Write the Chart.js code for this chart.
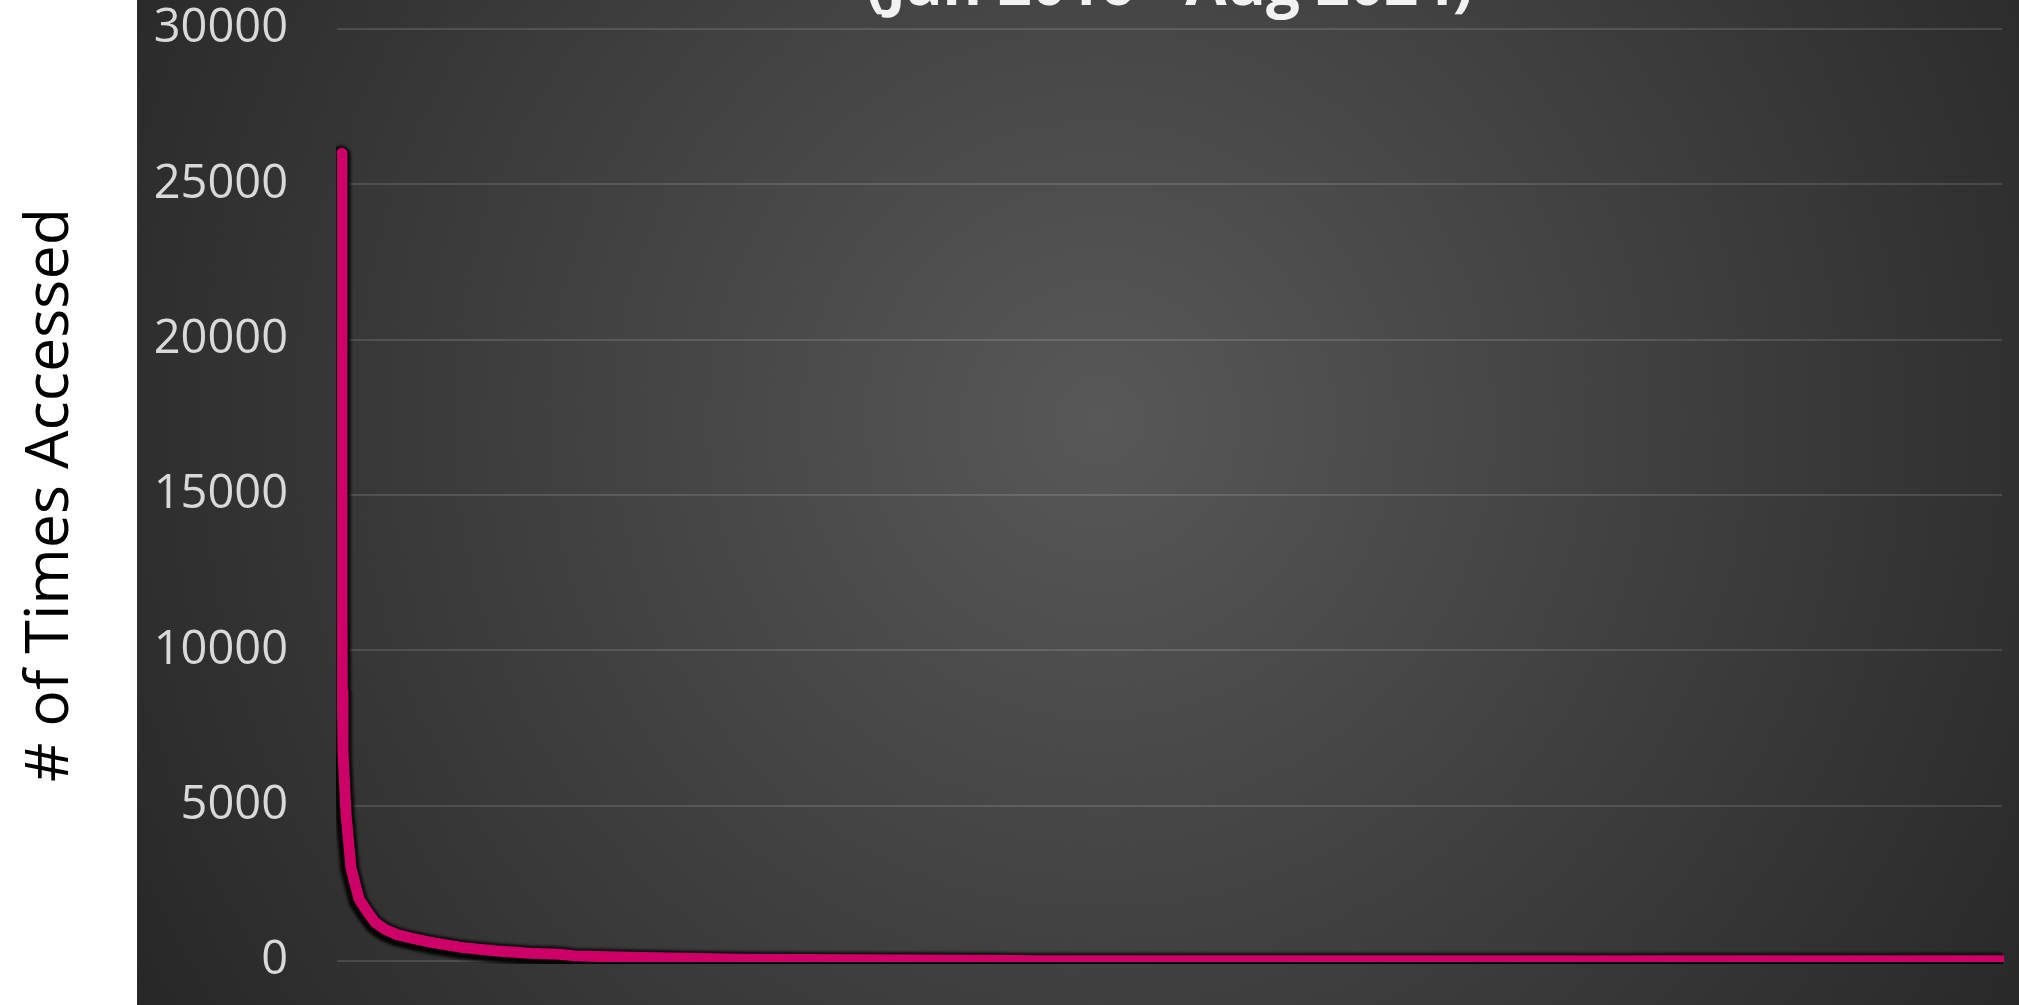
<!DOCTYPE html>
<html>
<head>
<meta charset="utf-8">
<script src="https://cdn.jsdelivr.net/npm/chart.js@4.4.1/dist/chart.umd.min.js"></script>
<style>
  html, body { margin: 0; padding: 0; background: #fff; }
  #chart { display: block; }
</style>
</head>
<body>
<canvas id="chart" width="2019" height="1005"></canvas>
<script>
// ---- data (rank of item -> times accessed) ----
const chartTitle = '(Jan 2016 - Aug 2024)'
const yAxisTitle = '# of Times Accessed'
const accessRanks = [14, 15, 16, 18, 27, 42, 54, 66, 90, 114, 144, 180, 230, 279, 378, 480, 579, 669, 714, 918, 1215, 1980, 2100, 5000]
const accessCounts = [26000, 11500, 8700, 6750, 4750, 3000, 2500, 2000, 1600, 1250, 1020, 850, 720, 610, 430, 320, 250, 220, 165, 110, 60, 25, 10, 10]
const yTicks = [0, 5000, 10000, 15000, 20000, 25000, 30000]
const rankMax = 5000

const points = accessRanks.map((r, i) => ({ x: r, y: accessCounts[i] }))

// dark backdrop with a soft radial glow, white strip on the left for the axis title
const backdrop = {
  id: 'backdrop',
  beforeDraw(chart) {
    const { ctx, width, height } = chart
    ctx.save()
    ctx.fillStyle = '#ffffff'
    ctx.fillRect(0, 0, width, height)
    const g = ctx.createRadialGradient(1100, 420, 0, 1100, 420, 1150)
    g.addColorStop(0, '#585858')
    g.addColorStop(1, '#262626')
    ctx.fillStyle = g
    ctx.fillRect(137, 0, width - 137, height)
    ctx.restore()
  },
}

// blur + nudge the dark under-layer so it reads as a shadow
const lineShadow = {
  id: 'lineShadow',
  beforeDatasetDraw(chart, args) {
    if (args.index !== 1) return
    chart.ctx.save()
    chart.ctx.filter = 'blur(1.5px)'
    chart.ctx.translate(-1, 2)
  },
  afterDatasetDraw(chart, args) {
    if (args.index === 1) chart.ctx.restore()
  },
}

new Chart(document.getElementById('chart'), {
  type: 'line',
  data: {
    datasets: [
      { data: points, borderColor: '#cc0066', borderWidth: 11, pointRadius: 0, tension: 0,
        borderCapStyle: 'round', borderJoinStyle: 'round', clip: { left: 0, top: 20, right: 2, bottom: 1 } },
      { data: points, borderColor: 'rgba(0,0,0,0.92)', borderWidth: 19, pointRadius: 0, tension: 0,
        borderCapStyle: 'round', borderJoinStyle: 'round', clip: { left: 0, top: 20, right: 2, bottom: 1 } },
    ],
  },
  options: {
    responsive: false,
    animation: false,
    devicePixelRatio: 1,
    layout: { padding: { left: 0, right: 17, top: 1, bottom: 44 } },
    plugins: {
      legend: { display: false },
      tooltip: { enabled: false },
      title: {
        display: true, fullSize: false, text: chartTitle, color: '#f2f2f2',
        font: { family: 'Open Sans', size: 60, weight: 'bold' },
        padding: { top: -49, bottom: 5 },
      },
    },
    scales: {
      x: { type: 'linear', min: 0, max: rankMax, display: false },
      y: {
        min: 0, max: 30000,
        afterBuildTicks: (s) => { s.ticks = yTicks.map((v) => ({ value: v })) },
        ticks: { color: '#d9d9d9', font: { family: 'Open Sans', size: 47 }, padding: 0, callback: (v) => String(v) },
        // invisible tick marks give the gap between labels and plot
        grid: { color: 'rgba(255,255,255,0.13)', lineWidth: 2, drawTicks: true, tickLength: 49, tickColor: 'rgba(0,0,0,0)' },
        border: { display: false },
        title: {
          display: true, text: yAxisTitle, color: '#000000',
          font: { family: 'Open Sans', size: 61 }, padding: { top: 14, bottom: 0 },
        },
        afterFit: (s) => { s.width = 337 },
      },
    },
  },
  plugins: [backdrop, lineShadow],
})
</script>
</body>
</html>
